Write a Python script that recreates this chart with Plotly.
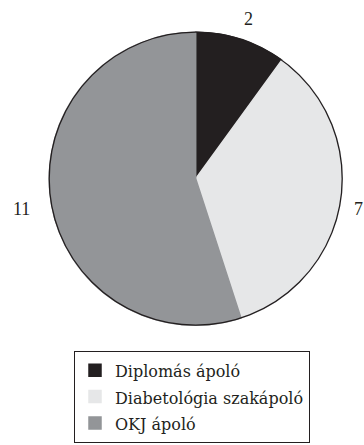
import math
import plotly.graph_objects as go

# Staff composition by qualification
categories = ["Diplomás ápoló", "Diabetológia szakápoló", "OKJ ápoló"]
counts = [2, 7, 11]
colors = ["#231f20", "#e6e7e8", "#939598"]

W, H = 364, 445
LABEL_FONT = "Liberation Serif"
LEGEND_FONT = "DejaVu Serif"
LABEL_SIZE = 18
LEGEND_TEXT_SIZE = 16
LEGEND_ROW_SIZE = 18   # controls row spacing of legend entries

# pie placement in pixels
cx, cy, R = 195.7, 178.7, 146.5

def px_x(x):
    return x / W

def px_y(y):
    return 1 - y / H

legend_labels = [f'<span style="font-size:{LEGEND_TEXT_SIZE}px">{c}</span>' for c in categories]

fig = go.Figure(
    go.Pie(
        labels=legend_labels,
        values=counts,
        sort=False,
        direction="clockwise",
        rotation=0,
        textinfo="none",
        hovertext=categories,
        hoverinfo="text+value",
        marker=dict(colors=colors, line=dict(color=colors, width=1.5)),
        domain=dict(x=[px_x(cx - R), px_x(cx + R)], y=[px_y(cy + R), px_y(cy - R)]),
    )
)

# outline around the whole pie
fig.add_shape(
    type="circle", xref="paper", yref="paper",
    x0=px_x(cx - R), x1=px_x(cx + R), y0=px_y(cy + R), y1=px_y(cy - R),
    line=dict(color="#231f20", width=1.3),
)

# value labels outside each slice, at the slice's middle angle
total = sum(counts)
cum = 0
for v in counts:
    mid = (cum + v / 2) / total * 2 * math.pi
    cum += v
    w = 0.5 * LABEL_SIZE * len(str(v))
    d = 1.14 * R + w / 2
    lx = cx + d * math.sin(mid)
    ly = cy - d * math.cos(mid) + 3
    lx = min(max(lx, w / 2 + 1), W - w / 2 - 1)
    fig.add_annotation(
        x=px_x(lx), y=px_y(ly), xref="paper", yref="paper",
        text=str(v), showarrow=False, xanchor="center", yanchor="middle",
        font=dict(family=LABEL_FONT, size=LABEL_SIZE, color="#231f20"),
    )

fig.update_layout(
    width=W, height=H,
    margin=dict(l=0, r=0, t=0, b=0),
    paper_bgcolor="white",
    plot_bgcolor="white",
    showlegend=True,
    legend=dict(
        x=px_x(74), y=px_y(351), xanchor="left", yanchor="top",
        bordercolor="#231f20", borderwidth=1,
        font=dict(family=LEGEND_FONT, size=LEGEND_ROW_SIZE, color="#231f20"),
        traceorder="normal",
    ),
)

fig.write_html("out.html")
